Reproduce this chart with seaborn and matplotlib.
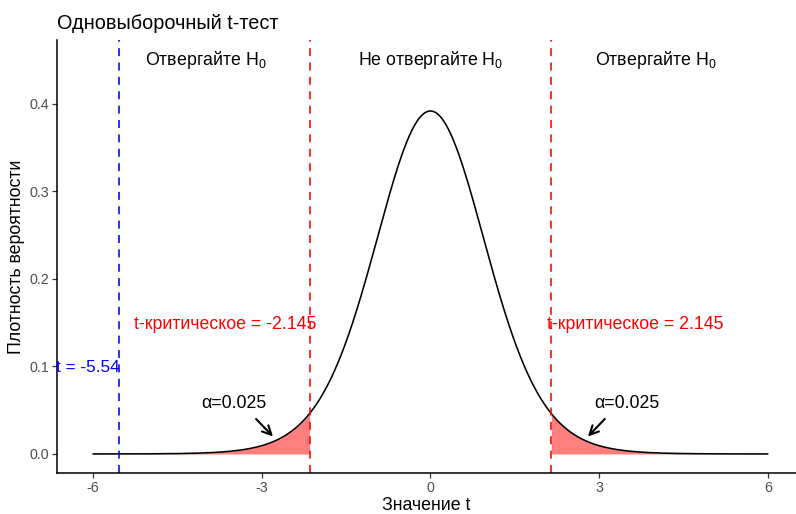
import math
import numpy as np
import pandas as pd
import matplotlib
matplotlib.use("Agg")
import matplotlib.pyplot as plt
import seaborn as sns

# Test parameters
df_t = 14            # degrees of freedom
t_stat = -5.54       # observed statistic
t_crit = 2.145       # two-sided critical value
alpha_tail = 0.025   # area in each tail

x_ticks = [-6, -3, 0, 3, 6]
y_ticks = [0.0, 0.1, 0.2, 0.3, 0.4]
region_labels = ["Отвергайте H$_0$", "Не отвергайте H$_0$", "Отвергайте H$_0$"]
region_x = [-4, 0, 4]


def t_pdf(x, nu):
    c = math.exp(math.lgamma((nu + 1) / 2) - math.lgamma(nu / 2)) / math.sqrt(nu * math.pi)
    return c * (1 + x ** 2 / nu) ** (-(nu + 1) / 2)


xs = np.linspace(-6, 6, 1201)
curve = pd.DataFrame({"t": xs, "density": t_pdf(xs, df_t)})

sns.set_theme(style="white")
plt.rcParams["font.family"] = ["Liberation Sans", "DejaVu Sans"]
plt.rcParams["mathtext.fontset"] = "custom"
plt.rcParams["mathtext.rm"] = "Liberation Sans"
plt.rcParams["mathtext.it"] = "Liberation Sans"
plt.rcParams["mathtext.default"] = "regular"

fig = plt.figure(figsize=(7.96, 5.14), dpi=100)
ax = fig.add_axes([0.0716, 0.0798, 0.9284, 0.8424])

ANN = 12.8

# shaded rejection tails
left = curve[curve["t"] <= -t_crit]
right = curve[curve["t"] >= t_crit]
ax.fill_between(left["t"], 0, left["density"], color="#FF0000", alpha=0.5, linewidth=0)
ax.fill_between(right["t"], 0, right["density"], color="#FF0000", alpha=0.5, linewidth=0)

sns.lineplot(data=curve, x="t", y="density", color="black", linewidth=1.15, ax=ax)

dash = (0, (5, 4))
ax.axvline(-t_crit, color="#FF0000", linestyle=dash, linewidth=1.15)
ax.axvline(t_crit, color="#FF0000", linestyle=dash, linewidth=1.15)
ax.axvline(t_stat, color="#0000FF", linestyle=dash, linewidth=1.15)

for lbl, xv in zip(region_labels, region_x):
    ax.text(xv, 0.45, lbl, ha="center", va="center", fontsize=ANN, color="black")

ax.text(-t_crit - 1.5, 0.148, f"t-критическое = {-t_crit}", ha="center", va="center",
        fontsize=ANN, color="#FF0000")
ax.text(t_crit + 1.5, 0.148, f"t-критическое = {t_crit}", ha="center", va="center",
        fontsize=ANN, color="#FF0000")
ax.text(t_stat - 0.55, 0.099, f"t = {t_stat}", ha="center", va="center",
        fontsize=12.4, color="#0000FF")

for sgn in (-1, 1):
    ax.text(sgn * 3.5, 0.058, f"α={alpha_tail}", ha="center", va="center",
            fontsize=ANN, color="black")
    ax.annotate("", xy=(sgn * 2.8, 0.02), xytext=(sgn * 3.1, 0.04),
                arrowprops=dict(arrowstyle="->", color="black", lw=1.5,
                                mutation_scale=16, shrinkA=0, shrinkB=0))

ax.set_xlim(-6.64, 6.5)
ax.set_ylim(-0.0217, 0.473)
ax.set_xticks(x_ticks)
ax.set_xticklabels([str(v) for v in x_ticks])
ax.set_yticks(y_ticks)
ax.set_yticklabels([f"{v:.1f}" for v in y_ticks])
ax.tick_params(axis="both", colors="#4D4D4D", labelsize=10.3, length=3.5, width=0.9,
               direction="out", left=True, bottom=True, pad=2)
ax.tick_params(axis="both", color="#333333")

for s in ("top", "right"):
    ax.spines[s].set_visible(False)
for s in ("left", "bottom"):
    ax.spines[s].set_color("black")
    ax.spines[s].set_linewidth(1.1)

ax.set_xlabel("Значение t", fontsize=12.8, color="black", labelpad=2)
ax.set_ylabel("Плотность вероятности", fontsize=12.8, color="black", labelpad=3)
ax.set_title("Одновыборочный t-тест", fontsize=14.3, loc="left", color="black", pad=8)

fig.savefig("out.png", dpi=100)
